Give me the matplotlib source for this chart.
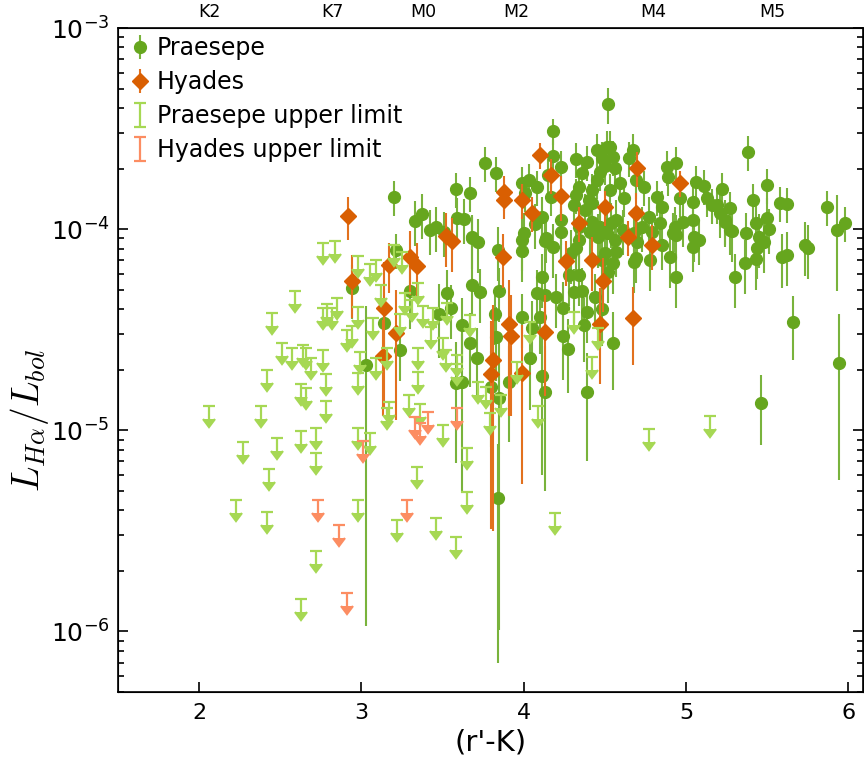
import numpy as np
import matplotlib.pyplot as plt
from matplotlib.ticker import LogLocator, NullFormatter

plt.rcParams['mathtext.fontset'] = 'cm'

# Praesepe detections: colour, log10(L_Ha/L_bol), fractional error
praesepe_rk = [3.20, 3.21, 2.94, 3.30, 3.14, 3.24, 3.03, 3.33, 3.37, 3.42,
               3.46, 3.51, 3.48, 3.53, 3.55, 3.58, 3.62, 3.62, 3.67, 3.71,
               3.68, 3.73, 3.85, 3.82, 3.83, 3.80, 3.85, 3.84, 3.91, 3.72,
               3.68, 3.84, 3.58, 3.67, 3.76, 3.83, 3.59, 3.63, 3.68, 3.99,
               3.99, 3.99, 4.05, 4.04, 4.10, 4.11, 4.11, 4.13, 4.08, 4.13,
               4.20, 4.24, 4.24, 4.27, 4.28, 4.34, 4.31, 4.36, 4.37, 4.39,
               4.39, 4.44, 4.48, 4.55, 4.13, 4.18, 4.23, 4.32, 4.34, 4.46,
               4.50, 4.29, 4.18, 4.18, 4.23, 4.15, 3.99, 4.03, 4.08, 4.01,
               4.17, 4.23, 4.11, 4.07, 4.00, 4.14, 4.32, 4.39, 4.45, 4.51,
               4.52, 4.50, 4.36, 4.45, 4.34, 4.32, 4.31, 4.42, 4.34, 4.42,
               4.41, 4.47, 4.38, 4.40, 4.42, 4.47, 4.48, 4.67, 4.65, 4.53,
               4.55, 4.56, 4.88, 4.94, 4.89, 5.06, 5.11, 5.22, 5.50, 5.41,
               5.27, 5.19, 5.13, 5.04, 4.96, 4.82, 4.85, 4.74, 4.69, 4.59,
               4.62, 4.53, 4.57, 4.54, 4.77, 4.84, 4.93, 4.98, 5.04, 5.21,
               5.24, 5.27, 5.37, 5.43, 4.73, 4.61, 4.51, 4.68, 4.79, 4.94,
               5.05, 5.38, 4.48, 4.55, 4.68, 4.78, 4.90, 4.94, 5.04, 5.08,
               4.92, 4.85, 4.70, 4.69, 4.56, 4.57, 4.52, 5.16, 5.30, 5.36,
               5.43, 5.59, 5.62, 5.73, 5.75, 5.66, 5.46, 5.94, 5.87, 5.98,
               5.93, 5.51, 5.50, 5.45, 5.48, 5.44, 5.28, 5.24, 5.58, 5.62]
praesepe_logl = [-3.840, -4.103, -4.292, -4.307, -4.466, -4.600, -4.674, -3.959, -3.924, -4.004,
                 -3.989, -4.013, -4.421, -4.317, -4.391, -4.764, -4.759, -4.475, -4.565, -4.639,
                 -4.277, -4.312, -4.307, -4.421, -4.535, -4.784, -4.838, -5.335, -4.759, -4.063,
                 -4.043, -4.103, -3.800, -3.820, -3.671, -3.720, -3.944, -3.949, -4.038, -4.053,
                 -4.108, -4.436, -4.490, -4.639, -4.436, -4.237, -4.729, -4.808, -4.317, -4.326,
                 -4.336, -4.391, -4.530, -4.595, -4.227, -4.227, -4.312, -4.307, -4.475, -4.808,
                 -4.411, -4.336, -4.396, -4.565, -4.058, -4.088, -4.013, -4.093, -4.053, -4.038,
                 -4.118, -4.118, -3.512, -3.636, -3.691, -3.730, -3.770, -3.755, -3.790, -3.820,
                 -3.840, -3.954, -3.939, -3.974, -4.018, -4.043, -3.651, -3.666, -3.606, -3.591,
                 -3.378, -3.686, -3.720, -3.755, -3.790, -3.830, -3.879, -3.869, -3.989, -3.964,
                 -4.013, -3.989, -3.904, -3.855, -3.805, -3.715, -3.646, -3.606, -3.646, -3.591,
                 -3.641, -3.696, -3.691, -3.671, -3.740, -3.765, -3.785, -3.800, -3.780, -3.855,
                 -3.894, -3.879, -3.845, -3.864, -3.845, -3.840, -3.889, -3.790, -3.755, -3.770,
                 -3.845, -3.805, -3.954, -3.969, -3.939, -3.969, -3.989, -3.964, -3.954, -3.919,
                 -3.954, -4.004, -4.018, -3.969, -3.989, -4.004, -4.018, -4.018, -4.013, -4.028,
                 -4.038, -3.616, -4.153, -4.167, -4.163, -4.153, -4.138, -4.237, -4.088, -4.053,
                 -4.018, -4.078, -4.063, -4.143, -4.053, -4.113, -4.212, -3.879, -4.237, -4.167,
                 -4.148, -4.138, -4.128, -4.078, -4.093, -4.461, -4.863, -4.664, -3.889, -3.969,
                 -4.004, -3.999, -3.944, -4.038, -4.063, -4.093, -4.009, -3.964, -3.869, -3.874]
praesepe_err = [0.20, 0.20, 0.30, 0.35, 0.25, 0.30, 0.95, 0.25, 0.25, 0.25,
                0.25, 0.25, 0.40, 0.30, 0.30, 0.60, 0.72, 0.35, 0.40, 0.40,
                0.30, 0.30, 0.30, 0.30, 0.40, 0.50, 0.93, 0.85, 0.50, 0.30,
                0.30, 0.30, 0.20, 0.20, 0.20, 0.20, 0.25, 0.25, 0.25, 0.30,
                0.30, 0.30, 0.35, 0.45, 0.35, 0.30, 0.68, 0.68, 0.30, 0.30,
                0.30, 0.35, 0.40, 0.40, 0.30, 0.30, 0.30, 0.30, 0.35, 0.55,
                0.30, 0.30, 0.35, 0.42, 0.30, 0.30, 0.30, 0.30, 0.30, 0.30,
                0.30, 0.30, 0.15, 0.20, 0.20, 0.20, 0.20, 0.20, 0.20, 0.20,
                0.20, 0.25, 0.25, 0.25, 0.25, 0.25, 0.20, 0.20, 0.20, 0.20,
                0.20, 0.20, 0.20, 0.20, 0.20, 0.20, 0.20, 0.20, 0.25, 0.25,
                0.25, 0.25, 0.20, 0.20, 0.20, 0.20, 0.20, 0.20, 0.20, 0.20,
                0.20, 0.20, 0.20, 0.20, 0.20, 0.20, 0.20, 0.20, 0.20, 0.20,
                0.20, 0.20, 0.20, 0.20, 0.20, 0.20, 0.20, 0.20, 0.20, 0.20,
                0.20, 0.20, 0.25, 0.25, 0.25, 0.25, 0.25, 0.25, 0.25, 0.25,
                0.25, 0.25, 0.25, 0.25, 0.25, 0.25, 0.25, 0.25, 0.25, 0.25,
                0.25, 0.20, 0.30, 0.30, 0.30, 0.30, 0.30, 0.30, 0.25, 0.25,
                0.25, 0.25, 0.25, 0.25, 0.25, 0.25, 0.30, 0.20, 0.30, 0.30,
                0.30, 0.30, 0.30, 0.30, 0.30, 0.35, 0.38, 0.74, 0.20, 0.20,
                0.50, 0.25, 0.25, 0.30, 0.30, 0.30, 0.30, 0.25, 0.20, 0.20]

# Hyades detections
hyades_rk = [2.92, 2.94, 3.17, 3.30, 3.34, 3.14, 3.21, 3.13, 3.52, 3.56,
             3.87, 3.91, 3.92, 4.13, 3.81, 3.80, 3.99, 4.10, 3.88, 3.88,
             3.99, 4.17, 4.23, 4.05, 4.34, 4.26, 4.42, 4.49, 4.47, 4.50,
             4.70, 4.96, 4.69, 4.64, 4.79, 4.67]
hyades_logl = [-3.934, -4.257, -4.177, -4.138, -4.182, -4.391, -4.515, -4.629, -4.033, -4.058,
               -4.138, -4.471, -4.530, -4.510, -4.649, -4.719, -4.714, -3.631, -3.815, -3.855,
               -3.855, -3.730, -3.835, -3.919, -3.969, -4.158, -4.153, -4.257, -4.471, -3.889,
               -3.696, -3.770, -3.919, -4.038, -4.078, -4.441]
hyades_err = [0.24, 0.35, 0.28, 0.35, 0.30, 0.68, 0.63, 0.50, 0.30, 0.30,
              0.30, 0.65, 0.60, 0.52, 0.86, 0.83, 0.72, 0.15, 0.20, 0.20,
              0.20, 0.20, 0.25, 0.20, 0.20, 0.25, 0.30, 0.30, 0.50, 0.20,
              0.20, 0.15, 0.25, 0.20, 0.25, 0.42]

# Upper limits
praesepe_ul_rk = [2.06, 2.27, 2.23, 2.38, 2.42, 2.42, 2.43, 2.45, 2.48, 2.51,
                  2.57, 2.59, 2.63, 2.63, 2.63, 2.64, 2.66, 2.66, 2.69, 2.72,
                  2.72, 2.72, 2.76, 2.76, 2.78, 2.78, 2.76, 2.79, 2.82, 2.85,
                  2.84, 2.91, 2.94, 2.98, 2.98, 2.98, 2.98, 2.98, 2.99, 3.05,
                  3.09, 3.07, 3.05, 3.09, 3.12, 3.16, 3.16, 3.17, 3.20, 3.25,
                  3.24, 3.27, 3.29, 3.31, 3.35, 3.35, 3.35, 3.36, 3.34, 3.38,
                  3.22, 3.43, 3.44, 3.46, 3.50, 3.50, 3.52, 3.53, 3.58, 3.59,
                  3.59, 3.65, 3.65, 3.67, 3.72, 3.77, 3.79, 3.86, 3.96, 4.04,
                  4.09, 4.19, 4.31, 4.42, 4.46, 4.77, 5.15]
praesepe_ul_logl = [-4.878, -5.057, -5.345, -4.878, -4.699, -5.404, -5.191, -4.416, -5.037, -4.565,
                    -4.590, -4.307, -4.769, -5.002, -5.837, -4.575, -4.590, -4.788, -4.639, -4.987,
                    -5.111, -5.598, -4.391, -4.600, -4.719, -4.853, -4.068, -4.371, -4.391, -4.341,
                    -4.058, -4.500, -4.480, -4.133, -4.386, -4.714, -4.987, -5.345, -4.610, -4.172,
                    -4.153, -4.441, -5.012, -4.639, -4.277, -4.590, -4.888, -4.858, -4.078, -4.113,
                    -4.421, -4.317, -4.823, -4.351, -4.267, -4.590, -4.709, -4.868, -5.181, -4.381,
                    -5.444, -4.485, -4.391, -5.434, -4.540, -4.972, -4.600, -4.366, -5.529, -4.624,
                    -4.669, -5.087, -5.305, -4.426, -4.759, -4.784, -4.913, -4.823, -4.659, -4.461,
                    -4.878, -5.409, -4.411, -4.634, -4.490, -4.992, -4.928]
hyades_ul_rk = [2.73, 2.86, 2.91, 3.28, 3.01, 3.33, 3.36, 3.41, 3.59]
hyades_ul_logl = [-5.345, -5.469, -5.807, -5.345, -5.052, -4.933, -4.963, -4.908, -4.888]

# spectral types along the top axis
spt_rk = [2.065, 2.82, 3.38, 3.955, 4.80, 5.53]
spt_names = ['K2', 'K7', 'M0', 'M2', 'M4', 'M5']

ul_frac = 0.14

fig = plt.figure(figsize=(8.64, 7.68), dpi=100)
ax = fig.add_axes([118 / 864, 76 / 768, 745 / 864, 664 / 768])

y = 10 ** np.array(praesepe_logl)
ax.errorbar(praesepe_rk, y, yerr=np.array(praesepe_err) * y, fmt='o', ms=8.5,
            color='#66a61e', ecolor='#79b33c', elinewidth=1.5, capsize=0,
            label='Praesepe', zorder=2)

y = 10 ** np.array(hyades_logl)
ax.errorbar(hyades_rk, y, yerr=np.array(hyades_err) * y, fmt='D', ms=8,
            color='#d95f02', ecolor='#e2711e', elinewidth=1.5, capsize=0,
            label='Hyades', zorder=3)

y = 10 ** np.array(praesepe_ul_logl)
ax.errorbar(praesepe_ul_rk, y, yerr=ul_frac * y, uplims=True, fmt='none',
            color='#a6d854', ecolor='#a6d854', elinewidth=1.6, capsize=4,
            capthick=1.6, label='Praesepe upper limit', zorder=4)

y = 10 ** np.array(hyades_ul_logl)
ax.errorbar(hyades_ul_rk, y, yerr=ul_frac * y, uplims=True, fmt='none',
            color='#fc8d62', ecolor='#fc8d62', elinewidth=1.6, capsize=4,
            capthick=1.6, label='Hyades upper limit', zorder=5)

ax.set_yscale('log')
ax.set_xlim(1.5, 6.09)
ax.set_ylim(5e-7, 1e-3)
ax.yaxis.set_minor_locator(LogLocator(base=10, subs=np.arange(2, 10), numticks=20))
ax.yaxis.set_minor_formatter(NullFormatter())

ax.tick_params(which='both', direction='in', right=True, top=False, width=1.2)
ax.tick_params(which='major', length=7)
ax.tick_params(which='minor', length=4)
ax.tick_params(axis='x', labelsize=16, pad=8)
ax.tick_params(axis='y', labelsize=18, pad=6)
for s in ax.spines.values():
    s.set_linewidth(1.2)

ax.set_xlabel("(r'-K)", fontsize=21)
ax.set_ylabel(r'$L_{H\alpha}/L_{bol}$', fontsize=27)
ax.yaxis.set_label_coords(-0.09, 0.41)

top = ax.twiny()
top.set_xlim(ax.get_xlim())
top.set_xticks(spt_rk)
top.set_xticklabels(spt_names)
top.tick_params(axis='x', length=0, labelsize=12.5, pad=5)

ax.legend(loc='upper left', bbox_to_anchor=(0.0095, 1.0), frameon=False,
          fontsize=17, handlelength=0.6, handletextpad=0.4, borderaxespad=0.05,
          borderpad=0.3, labelspacing=0.42)

fig.savefig('out.png', dpi=100)
